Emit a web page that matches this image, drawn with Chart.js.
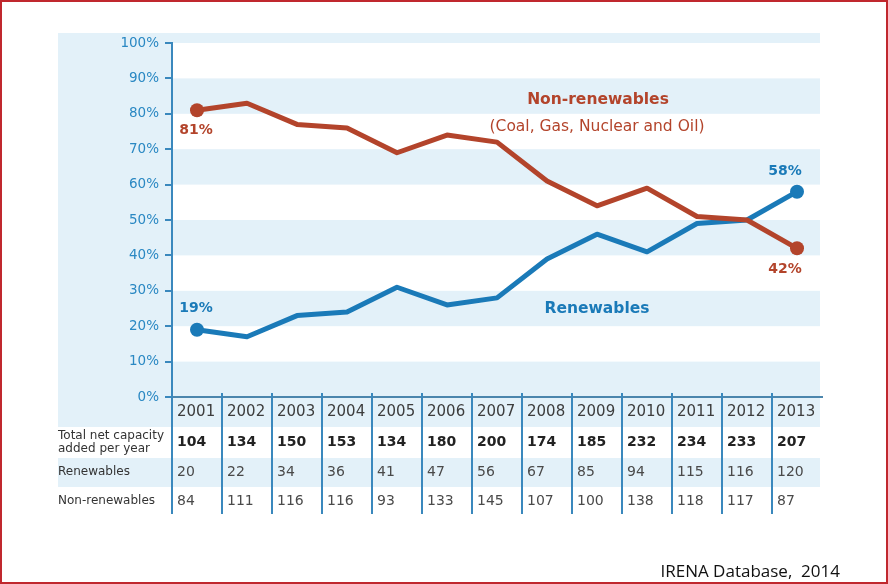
<!DOCTYPE html>
<html>
<head>
<meta charset="utf-8">
<script src="https://cdn.jsdelivr.net/npm/chart.js@4.4.1/dist/chart.umd.min.js"></script>
<style>
  html, body { margin: 0; padding: 0; background: #fff; }
  #wrap { width: 888px; height: 584px; }
</style>
</head>
<body>
<div id="wrap"><canvas id="shareChart" width="888" height="584"></canvas></div>
<script>
const years = ['2001', '2002', '2003', '2004', '2005', '2006', '2007', '2008', '2009', '2010', '2011', '2012', '2013'];
const nonRenewShare = [81, 83, 77, 76, 69, 74, 72, 61, 54, 59, 51, 50, 42];
const renewShare = [19, 17, 23, 24, 31, 26, 28, 39, 46, 41, 49, 50, 58];
const totalAdded = [104, 134, 150, 153, 134, 180, 200, 174, 185, 232, 234, 233, 207];
const renewAdded = [20, 22, 34, 36, 41, 47, 56, 67, 85, 94, 115, 116, 120];
const nonRenewAdded = [84, 111, 116, 116, 93, 133, 145, 107, 100, 138, 118, 117, 87];

const BROWN = '#b3442b';
const BLUE = '#1a7ab8';
const PALE = '#e3f1f9';
const AXIS = '#3a88bd';
const FONT = '"DejaVu Sans", "Open Sans", sans-serif';

const endPoint = (ctx) => (ctx.dataIndex === 0 || ctx.dataIndex === years.length - 1 ? 7 : 0);

// background panel and alternating bands
const bandsPlugin = {
  id: 'bands',
  beforeDraw(chart) {
    const { ctx, chartArea, scales } = chart;
    const y = scales.y;
    const right = chartArea.right - 2;
    ctx.save();
    ctx.fillStyle = PALE;
    ctx.fillRect(58, chartArea.top - 10, right - 58, chartArea.bottom + 30 - (chartArea.top - 10));
    ctx.fillStyle = '#ffffff';
    for (let v = 90; v >= 10; v -= 20) {
      const top = y.getPixelForValue(v + 10);
      const bot = y.getPixelForValue(v);
      ctx.fillRect(chartArea.left, top, right - chartArea.left, bot - top);
    }
    // renewables row in table
    ctx.fillStyle = PALE;
    ctx.fillRect(58, chartArea.bottom + 61, right - 58, 29);
    ctx.restore();
  }
};

// labels, table and source
const tablePlugin = {
  id: 'table',
  afterDraw(chart) {
    const { ctx, chartArea, scales } = chart;
    const x = scales.x;
    const y = scales.y;
    const colW = x.getPixelForValue(1) - x.getPixelForValue(0);
    const bottom = chartArea.bottom;
    const last = years.length - 1;
    ctx.save();

    // series labels
    ctx.textAlign = 'center';
    ctx.textBaseline = 'middle';
    ctx.fillStyle = BROWN;
    ctx.font = 'bold 15.5px ' + FONT;
    ctx.fillText('Non-renewables', x.getPixelForValue(8) + 1, y.getPixelForValue(83.9));
    ctx.font = '15.5px ' + FONT;
    ctx.fillText('(Coal, Gas, Nuclear and Oil)', x.getPixelForValue(8), y.getPixelForValue(76.3));
    ctx.fillStyle = BLUE;
    ctx.font = 'bold 15.5px ' + FONT;
    ctx.fillText('Renewables', x.getPixelForValue(8), y.getPixelForValue(25));

    // end values
    ctx.font = 'bold 14px ' + FONT;
    ctx.fillStyle = BROWN;
    ctx.fillText(nonRenewShare[0] + '%', x.getPixelForValue(0) - 1, y.getPixelForValue(nonRenewShare[0]) + 20);
    ctx.fillText(nonRenewShare[last] + '%', x.getPixelForValue(last) - 12, y.getPixelForValue(nonRenewShare[last]) + 21);
    ctx.fillStyle = BLUE;
    ctx.fillText(renewShare[0] + '%', x.getPixelForValue(0) - 1, y.getPixelForValue(renewShare[0]) - 21);
    ctx.fillText(renewShare[last] + '%', x.getPixelForValue(last) - 12, y.getPixelForValue(renewShare[last]) - 20);

    // table column lines
    ctx.strokeStyle = AXIS;
    ctx.lineWidth = 2;
    for (let i = 0; i < years.length; i++) {
      const bx = x.getPixelForValue(i) - colW / 2;
      ctx.beginPath();
      ctx.moveTo(bx, i === 0 ? bottom : bottom - 4);
      ctx.lineTo(bx, bottom + 117);
      ctx.stroke();
    }

    // table text
    ctx.textAlign = 'left';
    const rows = [
      { values: years, font: '15px ' + FONT, color: '#3d3d3d', dy: 15 },
      { values: totalAdded, font: 'bold 14px ' + FONT, color: '#222222', dy: 45 },
      { values: renewAdded, font: '14px ' + FONT, color: '#4a4a4a', dy: 75 },
      { values: nonRenewAdded, font: '14px ' + FONT, color: '#4a4a4a', dy: 104 }
    ];
    rows.forEach(row => {
      ctx.font = row.font;
      ctx.fillStyle = row.color;
      row.values.forEach((v, i) => {
        ctx.fillText(String(v), x.getPixelForValue(i) - colW / 2 + 5, bottom + row.dy);
      });
    });

    ctx.font = '12px ' + FONT;
    ctx.fillStyle = '#333333';
    ctx.fillText('Total net capacity', 58, bottom + 39);
    ctx.fillText('added per year', 58, bottom + 52);
    ctx.fillText('Renewables', 58, bottom + 75);
    ctx.fillText('Non-renewables', 58, bottom + 104);

    // source
    ctx.textAlign = 'right';
    ctx.fillStyle = '#111111';
    ctx.font = '17px "Open Sans", sans-serif';
    ctx.fillText('IRENA Database,  2014', 840, 572);

    // frame
    ctx.strokeStyle = '#c0282e';
    ctx.lineWidth = 2;
    ctx.strokeRect(1, 1, chart.width - 2, chart.height - 2);
    ctx.restore();
  }
};

new Chart(document.getElementById('shareChart'), {
  type: 'line',
  data: {
    labels: years,
    datasets: [
      {
        label: 'Non-renewables',
        data: nonRenewShare,
        borderColor: BROWN,
        backgroundColor: BROWN,
        borderWidth: 5,
        tension: 0,
        borderJoinStyle: 'round',
        borderCapStyle: 'round',
        pointRadius: endPoint,
        pointBorderWidth: 0,
        pointBackgroundColor: BROWN
      },
      {
        label: 'Renewables',
        data: renewShare,
        borderColor: BLUE,
        backgroundColor: BLUE,
        borderWidth: 5,
        tension: 0,
        borderJoinStyle: 'round',
        borderCapStyle: 'round',
        pointRadius: endPoint,
        pointBorderWidth: 0,
        pointBackgroundColor: BLUE
      }
    ]
  },
  options: {
    responsive: false,
    animation: false,
    devicePixelRatio: 1,
    layout: {
      padding: { left: 58, right: 66, top: 43, bottom: 187 }
    },
    plugins: {
      legend: { display: false },
      tooltip: { enabled: false }
    },
    scales: {
      x: {
        offset: true,
        ticks: { display: false },
        grid: { display: false },
        border: { display: true, color: '#4b86ad', width: 2 },
        afterFit: (scale) => { scale.height = 0; }
      },
      y: {
        min: 0,
        max: 100,
        ticks: {
          stepSize: 10,
          color: '#2a88c3',
          padding: 6,
          font: { family: FONT, size: 13.5 },
          callback: (value) => `${value}%`
        },
        grid: {
          drawOnChartArea: false,
          drawTicks: true,
          tickLength: 7,
          color: AXIS,
          lineWidth: 2
        },
        border: { display: true, color: AXIS, width: 2 },
        afterFit: (scale) => { scale.width = 114; }
      }
    }
  },
  plugins: [bandsPlugin, tablePlugin]
});
</script>
</body>
</html>
